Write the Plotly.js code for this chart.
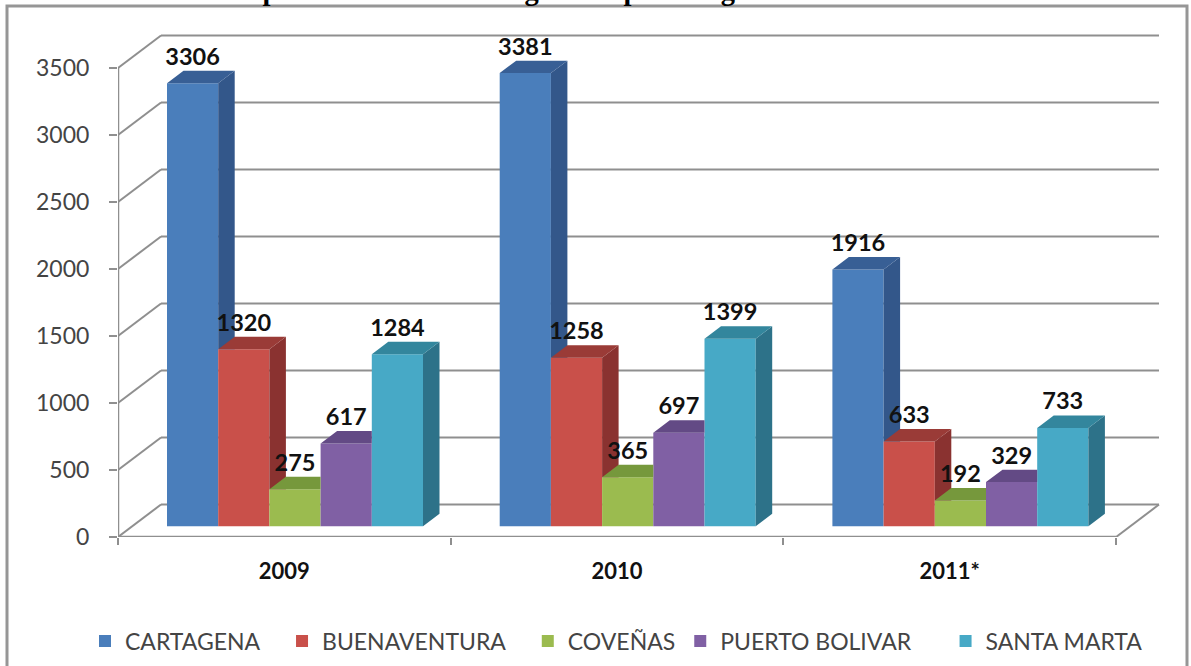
<!DOCTYPE html>
<html><head><meta charset="utf-8">
<script src="https://cdn.plot.ly/plotly-3.0.1.min.js"></script>
<style>html,body{margin:0;padding:0;background:#fff;overflow:hidden}</style>
</head><body><div id="chart" style="width:1191px;height:666px"></div>
<script>
const categories = ["2009","2010","2011*"];
const seriesNames = ["CARTAGENA","BUENAVENTURA","COVEÑAS","PUERTO BOLIVAR","SANTA MARTA"];
const cartagena = [3306,3381,1916];
const buenaventura = [1320,1258,633];
const covenas = [275,365,192];
const puertoBolivar = [617,697,329];
const santaMarta = [1284,1399,733];
const seriesValues = [cartagena,buenaventura,covenas,puertoBolivar,santaMarta];
const tickValues = [0,500,1000,1500,2000,2500,3000,3500];
const frontColors = ["#4a7ebb","#c9504a","#9bbb4f","#8060a4","#47a9c6"];
const sideColors = ["#33578a","#8a3230","#6b8535","#5a4278","#2d7289"];
const topColors = ["#385f95","#9a3b37","#76983c","#634a85","#33869d"];
const titleText = "Comportamiento de la carga en el puerto: granel";
const legendPadding = [3,3,0,5,0];

// pixel geometry of the plot frame
const W=1191,H=666,pxL=118,pxR=1191,pxB=537.5,pxT=33,pxWallEnd=1159;
const xUnit=332.7, yUnit=469.5/3500;
const px2x=p=>p/xUnit, px2y=p=>p/yUnit;
const wallDX=px2x(43), wallDY=px2y(32.5);
const barW=px2x(51.2), barDX=px2x(16.5), barDY=px2y(12.5);
const barBase=px2y(10.8), groupPad=px2x(49);
const xEnd=px2x(pxWallEnd-pxL);
const gridColor="#8f8f8f";

const barX=(g,s)=>g+groupPad+s*barW;
const traces=[];
// front faces
seriesValues.forEach((vals,s)=>{
  traces.push({type:"bar",name:seriesNames[s]+"\u00a0".repeat(legendPadding[s]),x:vals.map((_,g)=>barX(g,s)+barW/2),
    y:vals,base:vals.map(()=>barBase),width:barW,
    marker:{color:frontColors[s],line:{width:0}},hoverinfo:"skip",showlegend:true});
});
// side and top faces, trimmed where the neighbouring bar in front hides them
seriesValues.forEach((vals,s)=>{
  const sx=[],sy=[],tx=[],ty=[];
  vals.forEach((v,g)=>{
    const L=barX(g,s),R=L+barW,top=barBase+v;
    const next=s<seriesValues.length-1?barBase+seriesValues[s+1][g]:null;
    if(next===null||next<top){
      const low=next===null?barBase:next;
      const lowR=next===null?barBase+barDY:next;
      sx.push(R,R,R+barDX,R+barDX,R,null);
      sy.push(low,top,top+barDY,lowR,low,null);
      tx.push(L,R,R+barDX,L+barDX,L,null);
      ty.push(top,top,top+barDY,top+barDY,top,null);
    }else{
      tx.push(L,R,R,L+barDX,L,null);
      ty.push(top,top,top+barDY,top+barDY,top,null);
    }
  });
  traces.push({type:"scatter",mode:"lines",x:sx,y:sy,fill:"toself",fillcolor:sideColors[s],
    line:{width:0},hoverinfo:"skip",showlegend:false});
  traces.push({type:"scatter",mode:"lines",x:tx,y:ty,fill:"toself",fillcolor:topColors[s],
    line:{width:0},hoverinfo:"skip",showlegend:false});
});
// value labels
const lx=[],ly=[],lt=[];
seriesValues.forEach((vals,s)=>vals.forEach((v,g)=>{
  lx.push(barX(g,s)+barW/2); ly.push(barBase+v+px2y(24.5)); lt.push(String(v));
}));
traces.push({type:"scatter",mode:"text",x:lx,y:ly,text:lt,textposition:"middle center",
  textfont:{family:"Lato",size:23.5,color:"#111",weight:700},hoverinfo:"skip",showlegend:false});

// walls, grid, floor
const ln=(x0,y0,x1,y1,w)=>({type:"line",layer:"below",xref:"x",yref:"y",x0,y0,x1,y1,
  line:{color:gridColor,width:w||2}});
const shapes=[];
tickValues.forEach(t=>{
  shapes.push(ln(0,t,wallDX,t+wallDY));
  shapes.push(ln(wallDX,t+wallDY,xEnd,t+wallDY));
});
shapes.push(ln(0,0,0,3500,2.5));
shapes.push(ln(0,0,categories.length,0,2.5));
shapes.push(ln(categories.length,0,xEnd,wallDY));
// outer frame
const paperX=p=>(p-pxL)/(pxR-pxL), paperY=p=>(pxB-p)/(pxB-pxT);
shapes.push({type:"rect",layer:"below",xref:"paper",yref:"paper",
  x0:paperX(7),x1:paperX(1187),y0:paperY(690),y1:paperY(6),
  line:{color:"#969696",width:3},fillcolor:"rgba(0,0,0,0)"});

const layout={
  width:W,height:H,paper_bgcolor:"#fff",plot_bgcolor:"rgba(0,0,0,0)",
  margin:{l:pxL,r:W-pxR,t:pxT,b:H-pxB,pad:0},
  barmode:"overlay",
  title:{text:"<b>"+titleText+"</b>",font:{family:"Liberation Serif",size:28.5,color:"#000"},
    xref:"container",yref:"container",x:204/W,xanchor:"left",y:1,yanchor:"bottom",pad:{t:0,b:0}},
  xaxis:{range:[0,px2x(pxR-pxL)],tickmode:"array",tickvals:categories.map((_,g)=>g+0.5),ticktext:categories,
    ticks:"",showgrid:false,zeroline:false,showline:false,fixedrange:true,
    tickfont:{family:"Lato",size:22,color:"#111",weight:700},ticklabelstandoff:19,
    minor:{tickmode:"array",tickvals:categories.map((_,g)=>g).concat(categories.length),ticks:"outside",ticklen:7,tickwidth:2,tickcolor:gridColor,showgrid:false}},
  yaxis:{range:[0,px2y(pxB-pxT)],tickmode:"array",tickvals:tickValues,ticks:"outside",ticklen:8,tickwidth:2,tickcolor:gridColor,
    showgrid:false,zeroline:false,showline:false,fixedrange:true,ticklabelstandoff:15,
    tickfont:{family:"Lato",size:23,color:"#444"}},
  legend:{orientation:"h",xref:"container",yref:"container",x:85/W,xanchor:"left",y:1-641/H,yanchor:"middle",
    font:{family:"Lato",size:23,color:"#444"},bgcolor:"rgba(0,0,0,0)",traceorder:"normal",itemclick:false,itemdoubleclick:false},
  shapes
};
Plotly.newPlot("chart",traces,layout,{displayModeBar:false,staticPlot:true});
</script></body></html>
